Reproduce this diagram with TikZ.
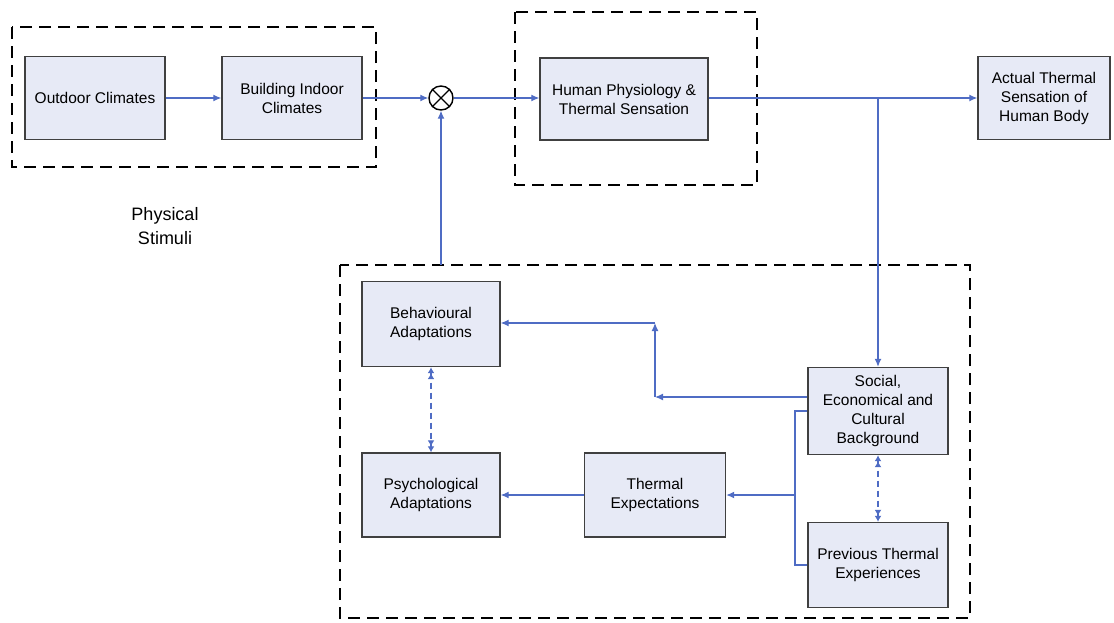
\documentclass[tikz,border=0pt]{standalone}
\usepackage{fontspec}
\setmainfont{Liberation Sans}
\usetikzlibrary{arrows.meta}

\definecolor{blockfill}{RGB}{231,234,246}
\definecolor{flowblue}{RGB}{79,108,196}

\begin{document}
\begin{tikzpicture}[x=1pt, y=-1pt,
        block/.style={draw=black!75, line width=1.4pt, fill=blockfill, align=center, inner sep=2pt,
            font=\fontsize{15.5}{19}\selectfont},
        flow/.style={-{Latex[length=8pt,width=7pt]}, draw=flowblue, line width=1.2pt},
        link/.style={draw=flowblue, line width=1.2pt},
        dflow/.style={{Latex[length=6pt,width=7pt]Latex[length=6pt,width=7pt]}-{Latex[length=6pt,width=7pt]Latex[length=6pt,width=7pt]},
            draw=flowblue, line width=1.2pt, dash pattern=on 6pt off 4pt},
        group/.style={draw=black, line width=2.5pt, dash pattern=on 12pt off 7pt}]
        \useasboundingbox (0,0) rectangle (1114,622);

        % Groups
        \draw[group] (12,27) rectangle (376,167);
        \draw[group] (515,12) rectangle (757,185);
        \draw[group] (340,265) rectangle (970,618);

        % Physical stimuli
        \node[block, minimum width=140pt, minimum height=83pt] (outdoor) at (95,98) {Outdoor Climates};
        \node[block, minimum width=140pt, minimum height=83pt] (indoor) at (292,98) {Building Indoor\\Climates};
        \node[draw, circle, line width=1.4pt, minimum size=24pt, inner sep=0pt] (sum) at (441,98) {};
        \draw[line width=1.4pt] (sum.north west) -- (sum.south east);
        \draw[line width=1.4pt] (sum.north east) -- (sum.south west);
        \node[font=\fontsize{18}{24}\selectfont, align=center] (stimuli) at (165,226) {Physical\\Stimuli};

        % Sensation
        \node[block, minimum width=168pt, minimum height=82pt] (physio) at (624,99) {Human Physiology \&\\Thermal Sensation};
        \node[block, minimum width=132pt, minimum height=83pt] (actual) at (1044,98) {Actual Thermal\\Sensation of\\Human Body};

        % Adaptation
        \node[block, minimum width=138pt, minimum height=85pt] (behav) at (431,324) {Behavioural\\Adaptations};
        \node[block, minimum width=138pt, minimum height=84pt] (psych) at (431,495) {Psychological\\Adaptations};
        \node[block, minimum width=141pt, minimum height=84pt] (expect) at (655,495) {Thermal\\Expectations};
        \node[block, minimum width=140pt, minimum height=87pt] (social) at (878,411) {Social,\\Economical and\\Cultural\\Background};
        \node[block, minimum width=140pt, minimum height=85pt] (previous) at (878,565) {Previous Thermal\\Experiences};

        % Helper points
        \coordinate (split) at (878,98);
        \coordinate (feedback) at (441,265);
        \coordinate (turn1) at (655,397);
        \coordinate (turn2) at (655,323);
        \coordinate (merge) at (795,495);

        % Connections
        \draw[flow] (outdoor) -- (indoor);
        \draw[flow] (indoor) -- (sum);
        \draw[flow] (sum) -- (physio.west |- sum);
        \draw[flow] (physio.east |- split) -- (actual);
        \draw[flow] (split) -- (social);
        \draw[flow] (feedback) -- (sum);

        \draw[flow] (social.west |- turn1) -- (turn1);
        \draw[flow] (turn1) -- (turn2);
        \draw[flow] (turn2) -- (behav.east |- turn2);

        \draw[link] (social.west) -| (merge) |- (previous.west);
        \draw[flow] (merge) -- (expect);
        \draw[flow] (expect) -- (psych);

        \draw[dflow] (behav) -- (psych);
        \draw[dflow] (social) -- (previous);
    \end{tikzpicture}
\end{document}
